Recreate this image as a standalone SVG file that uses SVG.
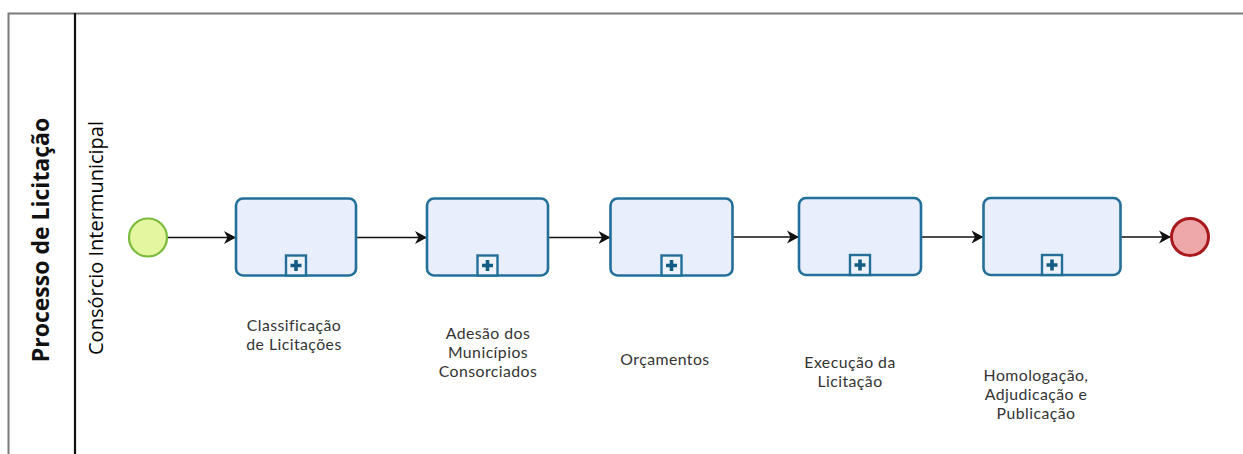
<svg xmlns="http://www.w3.org/2000/svg" width="1243" height="454" viewBox="0 0 1243 454">
  <style>
    .frame { fill: none; stroke: #7a7a7a; stroke-width: 2; }
    .divider { fill: none; stroke: #111; stroke-width: 2.2; }
    .task { fill: #e8eefc; stroke: #236f99; stroke-width: 2.6; }
    .sub-box { fill: #eef3fb; stroke: #236f99; stroke-width: 2.4; }
    .sub-plus { fill: none; stroke: #125c86; stroke-width: 3.6; }
    .flow { fill: none; stroke: #111; stroke-width: 1.4; marker-end: url(#arrow); }
    .label { font-family: Lato, "Open Sans", "DejaVu Sans", sans-serif; font-size: 15.8px; letter-spacing: 0.45px; fill: #333; text-anchor: middle; }
    .pool-title { font-family: "Open Sans", "Noto Sans", "DejaVu Sans", sans-serif; font-size: 23px; font-weight: bold; fill: #111; text-anchor: middle; }
    .lane-title { font-family: "Open Sans", "Noto Sans", "DejaVu Sans", sans-serif; font-size: 20px; fill: #000; text-anchor: middle; }
  </style>
  <defs>
    <marker id="arrow" markerUnits="userSpaceOnUse" markerWidth="13" markerHeight="14" refX="12" refY="7" orient="auto">
      <path d="M0,0.5 L12,7 L0,13.5 L3.5,7 Z" fill="#111"/>
    </marker>
    <g id="subprocess-marker">
      <rect class="sub-box" x="-10" y="0" width="20" height="20"/>
      <path class="sub-plus" d="M-5.5,10 H5.5 M0,4.5 V15.5"/>
    </g>
  </defs>

  <rect width="1243" height="454" fill="#fff"/>

  <!-- pool and lane -->
  <g id="pool">
    <path class="frame" d="M8.5,454 V13.5 H1243"/>
    <path class="divider" d="M75,13 V454"/>
    <text class="pool-title" transform="translate(49,240) rotate(-90)">Processo de Licitação</text>
    <text class="lane-title" transform="translate(103,238) rotate(-90)">Consórcio Intermunicipal</text>
  </g>

  <!-- sequence flows -->
  <g id="connectors">
    <path class="flow" d="M167.5,237.5 H236"/>
    <path class="flow" d="M356.5,237.5 H427"/>
    <path class="flow" d="M548,237.5 H610.5"/>
    <path class="flow" d="M732.5,237 H799"/>
    <path class="flow" d="M921,237 H983.5"/>
    <path class="flow" d="M1120.5,237 H1171"/>
  </g>

  <g id="start-event">
    <circle cx="148" cy="237.5" r="19" fill="#e4f6a0" stroke="#7bbb3c" stroke-width="2.2"/>
  </g>

  <g id="task-classificacao">
    <rect class="task" x="236" y="198.5" width="120" height="77" rx="7"/>
    <use href="#subprocess-marker" x="296" y="255.5"/>
    <text class="label" x="294" y="331">Classificação</text>
    <text class="label" x="294" y="350">de Licitações</text>
  </g>

  <g id="task-adesao">
    <rect class="task" x="427" y="198.5" width="121" height="77" rx="7"/>
    <use href="#subprocess-marker" x="487.5" y="255.5"/>
    <text class="label" x="488" y="339">Adesão dos</text>
    <text class="label" x="488" y="358">Municípios</text>
    <text class="label" x="488" y="377">Consorciados</text>
  </g>

  <g id="task-orcamentos">
    <rect class="task" x="610.5" y="198.5" width="122" height="77" rx="7"/>
    <use href="#subprocess-marker" x="671.5" y="255.5"/>
    <text class="label" x="665" y="365">Orçamentos</text>
  </g>

  <g id="task-execucao">
    <rect class="task" x="799" y="198" width="122" height="77" rx="7"/>
    <use href="#subprocess-marker" x="860" y="255"/>
    <text class="label" x="850" y="368">Execução da</text>
    <text class="label" x="850" y="387">Licitação</text>
  </g>

  <g id="task-homologacao">
    <rect class="task" x="983.5" y="198" width="137" height="77" rx="7"/>
    <use href="#subprocess-marker" x="1052" y="255"/>
    <text class="label" x="1036" y="381">Homologação,</text>
    <text class="label" x="1036" y="400">Adjudicação e</text>
    <text class="label" x="1036" y="419">Publicação</text>
  </g>

  <g id="end-event">
    <circle cx="1190" cy="237" r="18.5" fill="#efa8aa" stroke="#a8181d" stroke-width="3"/>
  </g>
</svg>
